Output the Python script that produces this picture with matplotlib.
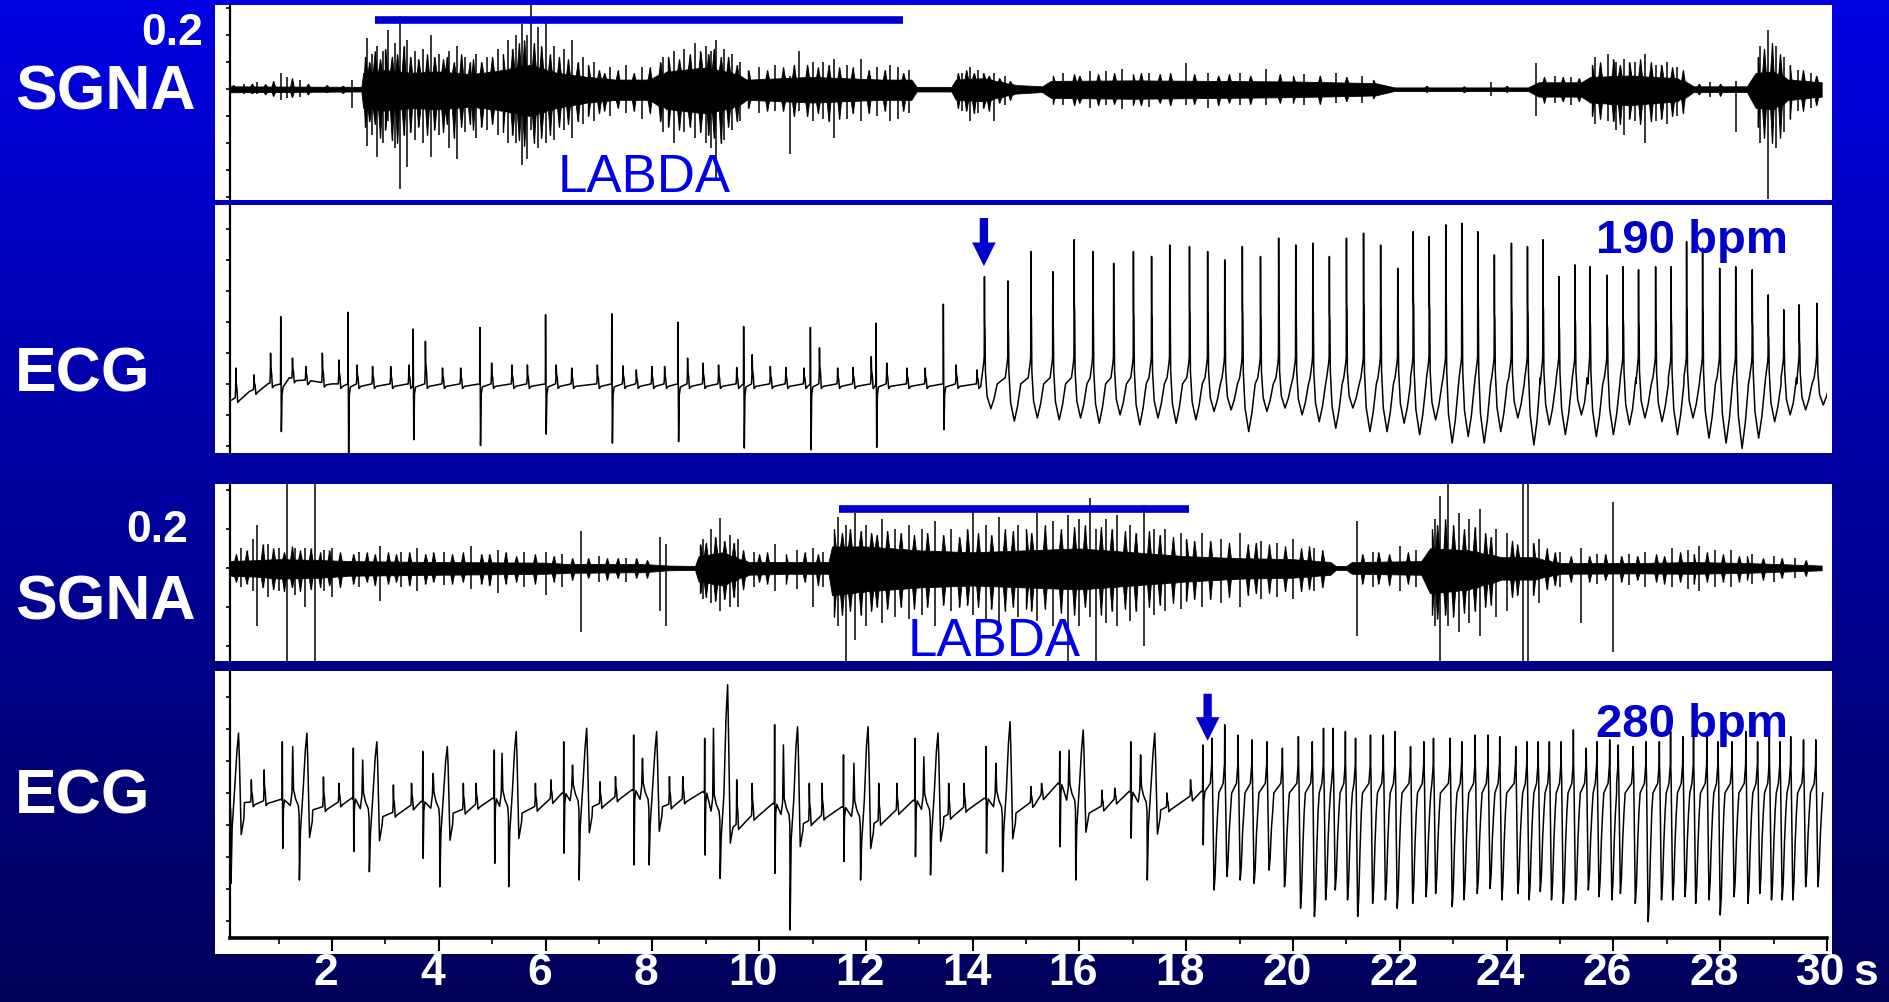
import numpy as np
import matplotlib
matplotlib.use('Agg')
import matplotlib.pyplot as plt
import matplotlib.transforms as mtransforms
from matplotlib.patches import Rectangle
from matplotlib.colors import LinearSegmentedColormap

plt.rcParams['font.family'] = ['Liberation Sans', 'DejaVu Sans']
NARROW = ['Liberation Sans Narrow', 'Liberation Sans', 'DejaVu Sans']

W, H = 1889, 1002

# ---------------- record 1 : SGNA (dense core envelope + spikes) ----------------
sg1_t = [0.09, 2.55, 2.6, 3.0, 3.5, 4.0, 4.6, 5.2, 5.7, 6.2, 6.8, 7.3, 7.9, 8.3, 9.0, 9.5, 9.8, 10.4, 11.0,
         11.6, 12.3, 12.85, 12.95, 13.6, 13.7, 14.2, 14.8, 15.3, 15.5, 17.0, 18.5, 20.0, 21.5, 21.9, 24.4, 24.6,
         25.4, 25.6, 26.3, 27.2, 27.5, 28.5, 28.7, 29.0, 29.3, 29.9]
sg1_up = [0.01, 0.008, 0.06, 0.07, 0.06, 0.065, 0.055, 0.07, 0.09, 0.06, 0.045, 0.035, 0.035, 0.065, 0.08,
          0.06, 0.035, 0.04, 0.045, 0.04, 0.035, 0.035, 0.008, 0.008, 0.035, 0.04, 0.015, 0.01, 0.03, 0.032,
          0.03, 0.028, 0.022, 0.006, 0.006, 0.025, 0.025, 0.045, 0.05, 0.04, 0.01, 0.01, 0.06, 0.065, 0.035, 0.025]
sg1_lo = [-0.012, -0.009, -0.07, -0.08, -0.07, -0.075, -0.065, -0.08, -0.10, -0.07, -0.05, -0.04, -0.04,
          -0.075, -0.09, -0.07, -0.04, -0.045, -0.05, -0.045, -0.04, -0.04, -0.009, -0.009, -0.04, -0.045,
          -0.017, -0.011, -0.033, -0.036, -0.033, -0.03, -0.024, -0.007, -0.007, -0.028, -0.028, -0.05, -0.06,
          -0.045, -0.011, -0.011, -0.07, -0.075, -0.04, -0.028]
sg1_spk_t = [0.35, 0.6, 1.05, 1.15, 1.4, 2.38, 2.65, 2.75, 2.85, 2.95, 3.05, 3.18, 3.28, 3.4, 3.55, 3.7, 3.85,
             4.0, 4.2, 4.35, 4.5, 4.7, 4.9, 5.1, 5.3, 5.45, 5.55, 5.65, 5.72, 5.85, 6.0, 6.15, 6.35, 6.5, 6.7,
             6.9, 7.2, 7.5, 7.8, 8.2, 8.4, 8.6, 8.8, 9.0, 9.1, 9.2, 9.35, 9.5, 9.65, 10.0, 10.3, 10.58, 10.75,
             11.0, 11.2, 11.4, 11.65, 11.9, 12.2, 12.45, 12.6, 12.8, 13.8, 13.95, 14.1, 14.4, 14.6, 15.7, 16.2,
             16.5, 16.8, 17.3, 17.99, 18.4, 19.0, 19.5, 20.2, 20.8, 21.3, 23.7, 24.55, 24.9, 25.2, 25.65, 25.9,
             26.05, 26.2, 26.4, 26.6, 26.8, 27.0, 27.2, 27.8, 28.3, 28.75, 28.9, 29.05, 29.2, 29.45, 29.7]
sg1_spk_hi = [0.02, 0.025, 0.06, 0.045, 0.035, 0.035, 0.19, 0.13, 0.16, 0.14, 0.22, 0.17, 0.27, 0.18, 0.14,
              0.15, 0.2, 0.13, 0.14, 0.16, 0.12, 0.13, 0.12, 0.15, 0.18, 0.2, 0.24, 0.2, 0.31, 0.23, 0.26,
              0.16, 0.15, 0.18, 0.12, 0.1, 0.08, 0.09, 0.08, 0.12, 0.14, 0.15, 0.17, 0.16, 0.14, 0.18, 0.15,
              0.13, 0.1, 0.08, 0.09, 0.05, 0.14, 0.1, 0.1, 0.11, 0.09, 0.11, 0.08, 0.09, 0.08, 0.07, 0.06,
              0.08, 0.07, 0.06, 0.05, 0.06, 0.065, 0.065, 0.075, 0.06, 0.095, 0.06, 0.06, 0.075, 0.055, 0.06,
              0.05, 0.025, 0.095, 0.05, 0.045, 0.12, 0.13, 0.1, 0.11, 0.1, 0.13, 0.09, 0.1, 0.08, 0.025, 0.03,
              0.16, 0.22, 0.16, 0.12, 0.07, 0.06]
sg1_spk_lo = [-0.02, -0.02, -0.04, -0.035, -0.03, -0.07, -0.21, -0.17, -0.25, -0.2, -0.12, -0.22, -0.37,
              -0.29, -0.19, -0.2, -0.25, -0.17, -0.22, -0.26, -0.16, -0.18, -0.15, -0.17, -0.2, -0.2, -0.28,
              -0.26, -0.15, -0.22, -0.2, -0.19, -0.15, -0.18, -0.13, -0.12, -0.1, -0.09, -0.11, -0.16, -0.2,
              -0.16, -0.18, -0.2, -0.22, -0.33, -0.19, -0.15, -0.12, -0.09, -0.08, -0.24, -0.08, -0.12, -0.11,
              -0.18, -0.11, -0.12, -0.1, -0.12, -0.11, -0.09, -0.08, -0.12, -0.09, -0.12, -0.06, -0.06, -0.07,
              -0.06, -0.075, -0.065, -0.06, -0.07, -0.06, -0.06, -0.06, -0.05, -0.05, -0.025, -0.10, -0.05,
              -0.06, -0.13, -0.12, -0.15, -0.17, -0.12, -0.2, -0.12, -0.13, -0.1, -0.03, -0.16, -0.2, -0.41,
              -0.22, -0.16, -0.08, -0.07]
# shorter spikes forming the ragged edge of the bursts
sg1_fine_t = [0.15, 0.5, 0.75, 0.9, 1.25, 1.55, 1.9, 2.2,
              2.62, 2.7, 2.8, 2.9, 3.0, 3.12, 3.22, 3.34, 3.47, 3.62, 3.78, 3.92, 4.08, 4.15, 4.28, 4.42, 4.58,
              4.64, 4.8, 5.0, 5.2, 5.38, 5.5, 5.6, 5.78, 5.92, 6.08, 6.25, 6.42, 6.6, 6.8, 7.0,
              7.1, 7.35, 7.65, 7.95, 8.15, 8.3, 8.5, 8.7, 8.9, 9.05, 9.15, 9.28, 9.42, 9.58,
              9.8, 10.15, 10.45, 10.65, 10.9, 11.1, 11.3, 11.5, 11.75, 12.05, 12.35, 12.7,
              13.72, 13.88, 14.02, 14.2, 14.3, 14.5, 14.7,
              15.5, 15.9, 16.0, 16.35, 16.65, 17.0, 17.15, 17.5, 17.7, 18.15, 18.6, 18.8, 19.2, 19.75, 20.0,
              20.5, 21.0, 21.5, 22.5, 23.2, 24.0, 24.7, 25.05, 25.35,
              25.6, 25.75, 26.0, 26.12, 26.3, 26.5, 26.7, 26.9, 27.1, 27.3, 27.6, 28.0,
              28.7, 28.82, 28.97, 29.12, 29.3, 29.55, 29.8]
sg1_fine_hi = [0.015, 0.02, 0.018, 0.03, 0.04, 0.02, 0.015, 0.012,
               0.12, 0.1, 0.14, 0.11, 0.15, 0.12, 0.13, 0.16, 0.12, 0.11, 0.13, 0.12, 0.11, 0.12, 0.1, 0.13,
               0.1, 0.11, 0.1, 0.12, 0.13, 0.15, 0.17, 0.18, 0.17, 0.16, 0.13, 0.12, 0.11, 0.1, 0.09, 0.07,
               0.06, 0.07, 0.06, 0.08, 0.1, 0.12, 0.11, 0.13, 0.14, 0.13, 0.15, 0.12, 0.12, 0.09,
               0.07, 0.07, 0.08, 0.09, 0.09, 0.08, 0.09, 0.08, 0.08, 0.07, 0.07, 0.06,
               0.06, 0.07, 0.06, 0.06, 0.05, 0.04, 0.03,
               0.05, 0.055, 0.05, 0.055, 0.06, 0.055, 0.06, 0.055, 0.06, 0.055, 0.05, 0.055, 0.05, 0.055, 0.05,
               0.05, 0.045, 0.035, 0.012, 0.01, 0.012, 0.045, 0.045, 0.04,
               0.09, 0.1, 0.11, 0.09, 0.1, 0.11, 0.1, 0.09, 0.08, 0.07, 0.02, 0.02,
               0.12, 0.15, 0.17, 0.13, 0.09, 0.07, 0.05]
sg1_fine_lo = [-0.012, -0.015, -0.02, -0.025, -0.03, -0.02, -0.012, -0.015,
               -0.14, -0.12, -0.13, -0.18, -0.15, -0.19, -0.2, -0.17, -0.16, -0.14, -0.17, -0.15, -0.16, -0.13,
               -0.18, -0.14, -0.13, -0.15, -0.14, -0.13, -0.16, -0.17, -0.19, -0.21, -0.2, -0.18, -0.17, -0.14,
               -0.13, -0.12, -0.1, -0.09,
               -0.08, -0.07, -0.08, -0.09, -0.12, -0.14, -0.15, -0.14, -0.16, -0.17, -0.18, -0.2, -0.14, -0.12,
               -0.07, -0.08, -0.08, -0.1, -0.1, -0.09, -0.12, -0.11, -0.09, -0.09, -0.08, -0.08,
               -0.07, -0.08, -0.09, -0.07, -0.08, -0.05, -0.04,
               -0.055, -0.06, -0.05, -0.06, -0.055, -0.06, -0.06, -0.05, -0.06, -0.055, -0.06, -0.05, -0.055,
               -0.05, -0.05, -0.055, -0.045, -0.035, -0.01, -0.012, -0.01, -0.05, -0.045, -0.045,
               -0.1, -0.11, -0.12, -0.13, -0.11, -0.13, -0.12, -0.11, -0.1, -0.09, -0.02, -0.025,
               -0.14, -0.18, -0.2, -0.18, -0.11, -0.08, -0.06]

# ---------------- record 1 : ECG ----------------
ecg1_base_t = [0.09, 0.2, 0.45, 0.8, 1.2, 1.6, 2.0, 14.15]
ecg1_base_v = [-0.55, -0.45, -0.25, 0.0, 0.2, 0.1, 0.0, 0.0]
ecg1_sb_t = [0.20, 0.54, 0.85, 1.26, 1.51, 1.82, 2.13, 2.47, 2.76, 3.10, 3.44, 3.75, 4.07, 4.41, 4.99, 5.37,
             5.66, 6.20, 6.49, 6.97, 7.45, 7.70, 7.99, 8.23, 8.66, 8.95, 9.24, 9.58, 9.87, 10.21, 10.50, 10.84,
             11.13, 11.47, 11.76, 12.10, 12.39, 12.77, 13.11, 13.69, 14.08]
ecg1_sb_pk = [0.51, 0.29, 0.99, 0.83, 0.56, 0.99, 0.77, 0.61, 0.56, 0.56, 0.61, 1.37, 0.51, 0.51, 0.67, 0.61,
              0.61, 0.61, 0.51, 0.61, 0.58, 0.45, 0.56, 0.56, 0.83, 0.67, 0.61, 0.53, 0.94, 0.56, 0.53, 0.51,
              1.16, 0.51, 0.53, 0.88, 0.67, 0.51, 0.51, 0.61, 0.45]
ecg1_sp_t = [1.04, 2.30, 3.52, 4.77, 6.00, 7.24, 8.48, 9.71, 10.96, 12.19, 13.45]
ecg1_sp_up = [2.17, 2.31, 1.77, 1.82, 2.23, 2.26, 1.99, 1.85, 1.82, 1.96, 2.57]
ecg1_sp_dn = [-1.54, -2.24, -1.80, -1.99, -1.62, -1.91, -1.86, -2.07, -2.13, -2.05, -1.48]
ecg1_vt_t = [14.22, 14.66, 15.09, 15.50, 15.90, 16.25, 16.64, 17.01, 17.35, 17.69, 18.06, 18.40, 18.72, 19.05,
             19.39, 19.73, 20.05, 20.37, 20.68, 21.00, 21.32, 21.64, 21.96, 22.25, 22.55, 22.86, 23.16, 23.46,
             23.77, 24.09, 24.39, 24.68, 24.98, 25.28, 25.56, 25.88, 26.18, 26.47, 26.79, 27.08, 27.37, 27.67,
             27.99, 28.29, 28.60, 28.90, 29.19, 29.48, 29.81]
ecg1_vt_pk = [3.46, 3.32, 4.27, 3.62, 4.65, 4.27, 3.89, 4.27, 4.11, 4.48, 4.43, 4.27, 4.00, 4.43, 4.11, 4.70,
              4.48, 4.54, 4.11, 4.70, 4.86, 4.48, 3.73, 4.91, 4.75, 5.13, 5.18, 4.91, 4.16, 4.54, 4.43, 4.65,
              3.46, 3.84, 3.78, 3.51, 3.78, 3.68, 3.78, 3.78, 4.59, 4.38, 3.73, 3.78, 3.68, 2.87, 2.39, 2.55, 2.60]
ecg1_vt_tr = [-0.80, -1.20, -1.10, -1.16, -1.10, -1.27, -1.00, -1.32, -1.10, -1.27, -1.16, -0.89, -0.84, -1.54,
              -0.89, -0.78, -1.00, -1.22, -1.43, -0.78, -1.54, -1.54, -1.27, -1.64, -1.16, -1.91, -1.70, -1.91,
              -1.54, -1.10, -1.97, -1.32, -1.64, -1.00, -1.70, -1.64, -1.32, -1.10, -1.22, -1.64, -1.10, -1.75,
              -1.91, -2.08, -1.75, -1.22, -1.00, -0.84, -0.68]

# ---------------- record 2 : SGNA ----------------
sg2_t = [0.09, 0.6, 1.0, 1.8, 2.3, 4.0, 6.0, 6.4, 7.8, 8.3, 8.8, 8.9, 9.3, 9.8, 10.5, 11.3, 11.4, 12.0, 13.0,
         14.0, 15.0, 16.0, 17.0, 18.0, 19.0, 20.0, 20.7, 20.8, 21.0, 21.1, 22.4, 22.6, 23.3, 23.9, 24.5, 25.0,
         26.5, 27.5, 28.5, 29.9]
sg2_up = [0.035, 0.04, 0.045, 0.04, 0.035, 0.03, 0.027, 0.02, 0.02, 0.012, 0.01, 0.06, 0.08, 0.03, 0.03, 0.03,
          0.11, 0.11, 0.09, 0.08, 0.09, 0.1, 0.08, 0.06, 0.05, 0.045, 0.03, 0.01, 0.01, 0.03, 0.035, 0.1,
          0.09, 0.055, 0.055, 0.025, 0.025, 0.03, 0.025, 0.012]
sg2_lo = [-0.04, -0.045, -0.055, -0.05, -0.04, -0.035, -0.03, -0.025, -0.022, -0.012, -0.01, -0.07, -0.09,
          -0.035, -0.03, -0.03, -0.14, -0.12, -0.1, -0.09, -0.1, -0.11, -0.09, -0.07, -0.055, -0.05, -0.035,
          -0.01, -0.01, -0.03, -0.035, -0.13, -0.11, -0.06, -0.06, -0.03, -0.028, -0.03, -0.025, -0.012]
sg2_spk_t = [0.3, 0.52, 0.6, 0.8, 1.0, 1.16, 1.3, 1.5, 1.68, 1.85, 2.0, 2.5, 2.9, 3.3, 3.6, 4.1, 4.6, 5.1, 5.6,
             6.0, 6.3, 6.66, 7.0, 7.5, 8.15, 8.25, 8.95, 9.1, 9.27, 9.45, 9.6, 9.9, 10.3, 10.7, 11.0, 11.2,
             11.47, 11.62, 11.8, 12.0, 12.3, 12.55, 12.8, 13.05, 13.3, 13.6, 14.0, 14.25, 14.5, 14.85, 15.2,
             15.5, 15.78, 16.0, 16.2, 16.3, 16.5, 16.7, 16.95, 17.2, 17.4, 17.6, 17.9, 18.3, 18.65, 19.0, 19.4,
             19.7, 20.0, 20.4, 21.2, 21.5, 22.0, 22.3, 22.65, 22.75, 22.9, 23.1, 23.3, 23.5, 23.8, 24.0, 24.3,
             24.4, 24.6, 25.0, 25.4, 25.7, 26.0, 26.3, 26.6, 27.1, 27.4, 27.6, 27.9, 28.2, 28.6, 29.0, 29.4]
sg2_spk_hi = [0.1, 0.15, 0.22, 0.12, 0.1, 0.45, 0.1, 0.1, 0.45, 0.09, 0.1, 0.08, 0.11, 0.08, 0.1, 0.08, 0.11,
              0.09, 0.08, 0.08, 0.07, 0.19, 0.06, 0.05, 0.16, 0.12, 0.15, 0.2, 0.255, 0.17, 0.15, 0.08, 0.12,
              0.09, 0.1, 0.08, 0.26, 0.22, 0.28, 0.22, 0.25, 0.2, 0.22, 0.2, 0.24, 0.2, 0.3, 0.22, 0.26, 0.22,
              0.28, 0.24, 0.27, 0.25, 0.36, 0.2, 0.25, 0.27, 0.22, 0.32, 0.2, 0.2, 0.18, 0.18, 0.15, 0.18, 0.14,
              0.13, 0.15, 0.1, 0.24, 0.08, 0.11, 0.09, 0.25, 0.37, 0.45, 0.28, 0.25, 0.3, 0.2, 0.18, 0.45, 0.45,
              0.15, 0.08, 0.1, 0.07, 0.34, 0.07, 0.08, 0.1, 0.09, 0.11, 0.09, 0.09, 0.07, 0.06, 0.05]
sg2_spk_lo = [-0.1, -0.12, -0.3, -0.15, -0.12, -0.48, -0.14, -0.2, -0.48, -0.12, -0.15, -0.1, -0.17, -0.1,
              -0.12, -0.09, -0.11, -0.13, -0.1, -0.14, -0.1, -0.33, -0.07, -0.07, -0.22, -0.3, -0.16, -0.18,
              -0.22, -0.2, -0.2, -0.1, -0.12, -0.11, -0.2, -0.1, -0.3, -0.48, -0.37, -0.3, -0.28, -0.25, -0.26,
              -0.24, -0.3, -0.22, -0.24, -0.27, -0.28, -0.25, -0.27, -0.3, -0.48, -0.3, -0.25, -0.48, -0.28,
              -0.3, -0.27, -0.4, -0.24, -0.22, -0.21, -0.2, -0.18, -0.2, -0.16, -0.15, -0.16, -0.12, -0.35,
              -0.1, -0.12, -0.1, -0.3, -0.48, -0.3, -0.33, -0.28, -0.35, -0.25, -0.22, -0.48, -0.48, -0.18,
              -0.1, -0.28, -0.08, -0.43, -0.09, -0.1, -0.1, -0.11, -0.12, -0.1, -0.1, -0.08, -0.07, -0.05]
sg2_fine_t = [0.2, 0.4, 0.7, 0.9, 1.1, 1.25, 1.4, 1.6, 1.78, 1.95, 2.15,
              2.4, 2.65, 2.8, 3.05, 3.2, 3.45, 3.75, 3.9, 4.25, 4.45, 4.8, 4.95, 5.25, 5.45, 5.8, 6.15,
              6.5, 6.8, 7.15, 7.35, 7.7, 7.9,
              8.9, 9.0, 9.18, 9.35, 9.52, 9.7, 10.0, 10.15, 10.5, 10.85, 11.1,
              11.4, 11.55, 11.7, 11.9, 12.1, 12.2, 12.4, 12.65, 12.9, 13.15, 13.45, 13.75, 13.9, 14.1, 14.35,
              14.6, 14.75, 15.0, 15.1, 15.35, 15.65, 15.9, 16.1, 16.4, 16.6, 16.85, 17.05, 17.3, 17.5, 17.75,
              18.0, 18.15, 18.45, 18.8, 19.15, 19.3, 19.55, 19.85, 20.15, 20.3, 20.55,
              21.3, 21.6, 21.8, 22.15,
              22.6, 22.7, 22.85, 23.0, 23.2, 23.4, 23.6, 23.7, 24.1, 24.2, 24.5, 24.75, 24.9,
              25.2, 25.55, 25.85, 26.15, 26.45, 26.8, 26.95, 27.25, 27.5, 27.75, 28.05, 28.35, 28.5, 28.8,
              29.15, 29.6]
sg2_fine_hi = [0.07, 0.09, 0.12, 0.1, 0.08, 0.11, 0.09, 0.1, 0.08, 0.09, 0.08,
               0.07, 0.08, 0.07, 0.08, 0.07, 0.08, 0.07, 0.08, 0.07, 0.08, 0.07, 0.07, 0.08, 0.06, 0.07, 0.06,
               0.05, 0.05, 0.05, 0.05, 0.05, 0.04,
               0.12, 0.13, 0.16, 0.14, 0.13, 0.09, 0.07, 0.08, 0.07, 0.08, 0.07,
               0.2, 0.18, 0.2, 0.19, 0.18, 0.17, 0.19, 0.18, 0.17, 0.18, 0.17, 0.16, 0.2, 0.18, 0.17,
               0.2, 0.19, 0.2, 0.18, 0.22, 0.2, 0.21, 0.22, 0.21, 0.2, 0.19, 0.18, 0.19, 0.17, 0.16,
               0.15, 0.14, 0.14, 0.13, 0.12, 0.13, 0.12, 0.11, 0.1, 0.11, 0.09,
               0.07, 0.08, 0.07, 0.08,
               0.2, 0.22, 0.25, 0.22, 0.2, 0.21, 0.18, 0.16, 0.14, 0.12, 0.13, 0.1, 0.08,
               0.06, 0.06, 0.07, 0.06, 0.06, 0.07, 0.06, 0.08, 0.07, 0.08, 0.07, 0.06, 0.06, 0.05,
               0.05, 0.04]
sg2_fine_lo = [-0.07, -0.08, -0.1, -0.11, -0.12, -0.1, -0.12, -0.11, -0.1, -0.09, -0.1,
               -0.08, -0.07, -0.09, -0.08, -0.07, -0.09, -0.08, -0.07, -0.08, -0.07, -0.08, -0.09, -0.08, -0.07,
               -0.08, -0.07,
               -0.06, -0.05, -0.06, -0.05, -0.05, -0.05,
               -0.13, -0.15, -0.17, -0.16, -0.15, -0.11, -0.07, -0.08, -0.08, -0.07, -0.09,
               -0.25, -0.24, -0.22, -0.24, -0.22, -0.2, -0.21, -0.2, -0.21, -0.2, -0.19, -0.2, -0.19, -0.2,
               -0.21, -0.22, -0.2, -0.21, -0.22, -0.21, -0.23, -0.24, -0.2, -0.24, -0.22, -0.21, -0.22, -0.2,
               -0.19, -0.18,
               -0.17, -0.16, -0.16, -0.15, -0.14, -0.13, -0.13, -0.12, -0.12, -0.11, -0.1,
               -0.08, -0.08, -0.09, -0.08,
               -0.24, -0.26, -0.24, -0.25, -0.23, -0.22, -0.2, -0.19, -0.15, -0.14, -0.14, -0.11, -0.09,
               -0.07, -0.07, -0.06, -0.07, -0.06, -0.07, -0.08, -0.07, -0.08, -0.07, -0.07, -0.07, -0.06,
               -0.06, -0.05, -0.04]

# ---------------- record 2 : ECG ----------------
ecg2_base_t = [0.36, 1.04, 1.64, 2.37, 2.95, 3.67, 4.27, 5.01, 5.56, 6.31, 6.88, 7.62, 8.19, 8.95, 9.52, 10.26,
               10.83, 11.55, 12.15, 12.89, 13.46, 14.22, 14.81, 15.60, 16.18, 16.93, 17.52, 18.28]
ecg2_base_v = [-0.30, -0.20, -0.53, -0.16, -0.74, -0.26, -0.63, -0.16, -0.63, 0.00, -0.43, 0.10, -0.43, 0.05,
               -1.05, -0.32, -0.95, -0.43, -0.95, -0.22, -0.74, -0.16, -0.63, 0.31, -0.63, 0.05, -0.53, 0.05]
ecg2_cx_t = [0.11, 1.39, 2.70, 4.02, 5.31, 6.63, 7.94, 9.27, 10.58, 11.90, 13.21, 14.56, 15.93, 17.27]
ecg2_cx_h1 = [0.61, 1.45, 1.03, 0.61, 1.24, 0.87, 1.08, 2.02, 1.50, 0.93, 1.13, 0.93, 1.34, 1.19]
ecg2_cx_d = [-2.82, -2.72, -2.46, -2.93, -2.93, -2.72, -2.25, -2.67, -4.28, -2.72, -2.56, -2.46, -2.72, -2.72]
ecg2_cx_h2 = [1.87, 1.87, 1.60, 1.45, 1.92, 2.02, 1.92, 3.38, 2.07, 2.07, 1.87, 2.23, 1.97, 1.87]
ecg2_pre_t = [1.07, 2.40, 3.70, 5.04, 6.34, 7.65, 8.98, 10.29, 11.58, 12.92, 14.25, 15.63, 16.96, 18.31]
ecg2_pre_up = [1.60, 1.40, 1.30, 1.34, 1.60, 1.81, 1.71, 2.13, 1.19, 1.71, 1.45, 1.30, 1.60, 1.50]
ecg2_pre_dn = [-1.73, -1.83, -2.04, -2.20, -1.88, -2.25, -1.94, -2.51, -2.14, -1.99, -1.88, -1.68, -1.41, -1.62]
ecg2_sb_t = [0.49, 0.73, 1.84, 2.13, 3.15, 3.49, 4.46, 4.70, 5.81, 6.10, 7.02, 7.31, 8.32, 8.57, 9.58, 9.87,
             10.94, 11.18, 12.24, 12.58, 13.55, 13.84, 15.09, 15.29, 16.42, 16.66, 17.64, 18.08]
ecg2_sb_pk = [0.41, 0.72, 0.50, 0.30, 0.25, 0.30, 0.30, 0.30, 0.30, 0.41, 0.35, 0.51, 0.51, 0.51, 0.41, 0.30,
              0.30, 0.30, 0.30, 0.30, 0.30, 0.30, 0.20, 0.30, 0.09, 0.15, 0.00, 0.41]
ecg2_vt_t = [18.48, 18.72, 18.97, 19.23, 19.51, 19.80, 20.10, 20.36, 20.57, 20.75, 20.98, 21.17, 21.45, 21.69,
             21.91, 22.20, 22.45, 22.63, 22.94, 23.16, 23.41, 23.65, 23.87, 24.17, 24.38, 24.59, 24.80, 25.02,
             25.25, 25.49, 25.69, 25.93, 26.09, 26.37, 26.61, 26.86, 27.07, 27.30, 27.50, 27.75, 27.96, 28.22,
             28.48, 28.70, 28.92, 29.12, 29.32, 29.56, 29.79]
ecg2_vt_pk = [1.71, 2.13, 1.81, 1.66, 1.60, 1.40, 1.76, 1.60, 2.02, 2.02, 1.92, 1.71, 1.81, 1.81, 1.92, 1.45,
              1.60, 1.71, 1.71, 1.60, 1.81, 1.81, 1.76, 1.45, 1.60, 1.60, 1.60, 1.60, 1.97, 1.40, 1.60, 1.66,
              1.50, 1.45, 1.60, 1.60, 1.92, 1.76, 1.81, 1.76, 1.60, 1.60, 1.92, 1.60, 1.76, 1.60, 1.76, 1.66, 1.66]
ecg2_vt_tr = [-3.03, -2.61, -2.72, -2.82, -2.41, -2.93, -3.60, -3.86, -3.34, -3.03, -3.34, -3.86, -3.45, -3.34,
              -3.60, -3.45, -3.24, -3.14, -3.55, -3.34, -3.14, -2.98, -3.34, -3.14, -3.34, -3.08, -3.34, -3.45,
              -3.34, -3.03, -3.24, -3.34, -3.14, -3.45, -4.02, -3.34, -3.34, -3.24, -3.45, -3.34, -3.81, -3.24,
              -3.45, -3.14, -3.34, -3.34, -3.34, -2.93, -2.93]

ticks_x = list(range(2, 31, 2))

BLUE = '#0000CC'
TXT_BLUE = '#0000EE'


def build_trace(base_t, base_v, events):
    # events: (t0, dts, vals); base points that fall inside a complex are dropped
    pts_t, pts_v, spans = [], [], []
    for t0, dts, vals in events:
        pts_t += [t0 + d for d in dts]
        pts_v += list(vals)
        spans.append((t0 + dts[0], t0 + dts[-1]))
    for t, v in zip(base_t, base_v):
        if not any(a <= t <= b for a, b in spans):
            pts_t.append(t)
            pts_v.append(v)
    order = np.argsort(pts_t)
    return np.array(pts_t)[order], np.array(pts_v)[order]


def ragged(env_t, env_up, env_lo, fine_t, fine_hi, fine_lo, d=0.035):
    # outline of the dense activity: core envelope with a tooth at every read spike tip
    pts = list(zip(env_t, env_up, env_lo))
    for t, hi, lo in zip(fine_t, fine_hi, fine_lo):
        cu, cl = np.interp(t, env_t, env_up), np.interp(t, env_t, env_lo)
        pts += [(t - d, cu, cl), (t, hi, lo), (t + d, cu, cl)]
    pts.sort()
    t, u, l = zip(*pts)
    return np.array(t), np.array(u), np.array(l)


def small_beat(t0, b, pk):
    h = pk - b
    return (t0, [-0.012, -0.004, 0, 0.006, 0.02, 0.035, 0.07],
            [b, b + 0.35 * h, pk, b + 0.5 * h, b + 0.3 * h, b - 0.15, b - 0.08])


# record 1 ECG
ev1 = []
for t0, pk in zip(ecg1_sb_t, ecg1_sb_pk):
    ev1.append(small_beat(t0, np.interp(t0, ecg1_base_t, ecg1_base_v), pk))
for t0, up, dn in zip(ecg1_sp_t, ecg1_sp_up, ecg1_sp_dn):
    ev1.append((t0, [-0.004, 0, 0.006, 0.012, 0.025, 0.045], [0.0, up, 0.2, dn, -0.35, -0.1]))
for t0, p, q in zip(ecg1_vt_t, ecg1_vt_pk, ecg1_vt_tr):
    ev1.append((t0, [-0.05, -0.012, -0.004, 0, 0.004, 0.01, 0.018, 0.05, 0.12, 0.18, 0.24],
                [0.2, 0.7, 0.9, p, 0.55 * p, 0.5 * p, 0.4, 0.5 * q, q, 0.6 * q, 0.0]))
e1_t, e1_v = build_trace(ecg1_base_t, ecg1_base_v, ev1)

# record 2 ECG
ev2 = []
for t0, pk in zip(ecg2_sb_t, ecg2_sb_pk):
    ev2.append(small_beat(t0, np.interp(t0, ecg2_base_t, ecg2_base_v), pk))
for t0, up, dn in zip(ecg2_pre_t, ecg2_pre_up, ecg2_pre_dn):
    b = np.interp(t0, ecg2_base_t, ecg2_base_v)
    ev2.append((t0, [-0.005, 0, 0.008, 0.02, 0.04], [b, up, dn, b - 0.3, b]))
for t0, h1, d, h2 in zip(ecg2_cx_t, ecg2_cx_h1, ecg2_cx_d, ecg2_cx_h2):
    b = np.interp(t0, ecg2_base_t, ecg2_base_v)
    ev2.append((t0, [-0.17, -0.14, -0.125, -0.11, -0.07, -0.02, -0.005, 0, 0.02, 0.07, 0.11, 0.14, 0.155,
                     0.19, 0.24],
                [b, b + 0.4, h1, b + 0.5, b + 0.2, b, b - 0.3, d, b - 0.8, b + 0.5, 0.7 * h2, h2, 0.6 * h2,
                 b - 1.0, b - 0.5]))
for t0, p, q in zip(ecg2_vt_t, ecg2_vt_pk, ecg2_vt_tr):
    ev2.append((t0, [-0.03, -0.013, -0.004, 0, 0.004, 0.01, 0.022, 0.04, 0.06, 0.085, 0.108, 0.13],
                [0.3, 0.7, 0.9, p, 0.85, 0.5, 0.3 * q, q, 0.85 * q, 0.45 * q, -0.6, 0.0]))
e2_t, e2_v = build_trace(ecg2_base_t, ecg2_base_v, ev2)

# ---------------- figure ----------------
fig = plt.figure(figsize=(W / 100, H / 100), dpi=100)

# blue gradient background
bg = fig.add_axes([0, 0, 1, 1], zorder=-10)
grad = np.linspace(1, 0, 256).reshape(-1, 1)
cmap = LinearSegmentedColormap.from_list('bg', ['#00005A', '#0000E2'])
bg.imshow(grad, aspect='auto', cmap=cmap, extent=[0, 1, 0, 1])
bg.axis('off')


def px_rect(x0, y0, x1, y1):
    return [x0 / W, 1 - y1 / H, (x1 - x0) / W, (y1 - y0) / H]


# white panels
for y0, y1 in [(5, 200), (205, 453), (484, 661), (671, 954)]:
    x0, yb, w, h = px_rect(215, y0, 1832, y1)
    fig.patches.append(Rectangle((x0, yb), w, h, transform=fig.transFigure, fc='white', ec='none', zorder=-5))

ax1 = fig.add_axes(px_rect(230, 5, 1827, 199))
ax2 = fig.add_axes(px_rect(230, 205, 1827, 453))
ax3 = fig.add_axes(px_rect(230, 484, 1827, 661))
ax4 = fig.add_axes(px_rect(230, 671, 1827, 938))

for ax, lim, yt in [(ax1, (-0.407, 0.311), np.arange(-0.4, 0.31, 0.1)),
                    (ax2, (-2.23, 5.77), np.arange(-2, 6, 1)),
                    (ax3, (-0.477, 0.43), np.arange(-0.4, 0.41, 0.2)),
                    (ax4, (-4.53, 3.81), np.arange(-4, 4, 1))]:
    ax.set_facecolor('none')
    ax.set_xlim(0.09, 30.0)
    ax.set_ylim(*lim)
    ax.set_yticks(yt)
    ax.tick_params(axis='y', direction='out', length=3, width=1.2, labelleft=False, color='black')
    for s in ['top', 'right', 'bottom']:
        ax.spines[s].set_visible(False)
    ax.spines['left'].set_linewidth(1.6)
    if ax is not ax4:
        ax.set_xticks([])

# SGNA traces
for ax, env, fine, spk in [(ax1, (sg1_t, sg1_up, sg1_lo), (sg1_fine_t, sg1_fine_hi, sg1_fine_lo),
                            (sg1_spk_t, sg1_spk_hi, sg1_spk_lo)),
                           (ax3, (sg2_t, sg2_up, sg2_lo), (sg2_fine_t, sg2_fine_hi, sg2_fine_lo),
                            (sg2_spk_t, sg2_spk_hi, sg2_spk_lo))]:
    rt, ru, rl = ragged(*env, *fine)
    ax.fill_between(rt, rl, ru, color='black', lw=0.6)
    ax.vlines(fine[0], fine[2], fine[1], color='black', lw=1.0)
    ax.vlines(spk[0], spk[2], spk[1], color='black', lw=1.1)

# ECG traces
ax2.plot(e1_t, e1_v, color='black', lw=1.1)
ax4.plot(e2_t, e2_v, color='black', lw=1.1)

# LABDA bars and labels
ax1.plot([2.81, 12.7], [0.256, 0.256], color=BLUE, lw=5.5, solid_capstyle='butt', zorder=5)
ax1.text(7.84, -0.381, 'LABDA', ha='center', va='baseline', fontsize=38, color=TXT_BLUE, zorder=6)
ax3.plot([11.5, 18.05], [0.30, 0.30], color=BLUE, lw=5.5, solid_capstyle='butt', zorder=5)
ax3.text(14.41, -0.451, 'LABDA', ha='center', va='baseline', fontsize=38, color=TXT_BLUE, zorder=6)

# onset arrows and rates
arrow = dict(facecolor=BLUE, edgecolor='none', width=6, headwidth=17, headlength=17, shrink=0)
ax2.annotate('', xy=(14.21, 3.8), xytext=(14.21, 5.35), arrowprops=arrow, zorder=6)
ax4.annotate('', xy=(18.40, 1.63), xytext=(18.40, 3.1), arrowprops=arrow, zorder=6)
ax2.text(27.47, 4.23, '190 bpm', ha='center', va='baseline', fontsize=34, fontweight='bold', color=BLUE, zorder=6)
ax4.text(27.47, 1.75, '280 bpm', ha='center', va='baseline', fontsize=34, fontweight='bold', color=BLUE, zorder=6)

# time axis
ax4.spines['bottom'].set_visible(True)
ax4.spines['bottom'].set_linewidth(2.6)
ax4.set_xticks(ticks_x)
ax4.set_xticks(list(range(1, 30, 2)), minor=True)
ax4.set_xticklabels([str(v) for v in ticks_x], family=NARROW, fontweight='bold', fontsize=32, color='white')
ax4.tick_params(axis='x', which='major', direction='out', length=9.5, width=1.5, pad=1)
ax4.tick_params(axis='x', which='minor', direction='out', length=4.5, width=1.2)
shift = mtransforms.ScaledTranslation(-6 / 100, 0, fig.dpi_scale_trans)
for lbl in ax4.get_xticklabels():
    lbl.set_transform(lbl.get_transform() + shift)
ax4.annotate('s', xy=(30, 0), xycoords=('data', 'axes fraction'), xytext=(19, -10.5),
             textcoords='offset points', ha='left', va='top', family=NARROW, fontweight='bold',
             fontsize=32, color='white', annotation_clip=False)

# channel labels
lab = dict(color='white', fontweight='bold')
fig.text(203 / W, 1 - 45 / H, '0.2', ha='right', va='baseline', fontsize=32, **lab)
fig.text(105 / W, 1 - 110 / H, 'SGNA', ha='center', va='baseline', fontsize=45, **lab)
fig.text(83 / W, 1 - 392 / H, 'ECG', ha='center', va='baseline', fontsize=45, **lab)
fig.text(188 / W, 1 - 542 / H, '0.2', ha='right', va='baseline', fontsize=32, **lab)
fig.text(105 / W, 1 - 620 / H, 'SGNA', ha='center', va='baseline', fontsize=45, **lab)
fig.text(83 / W, 1 - 813 / H, 'ECG', ha='center', va='baseline', fontsize=45, **lab)

fig.savefig('out.png', dpi=100)
